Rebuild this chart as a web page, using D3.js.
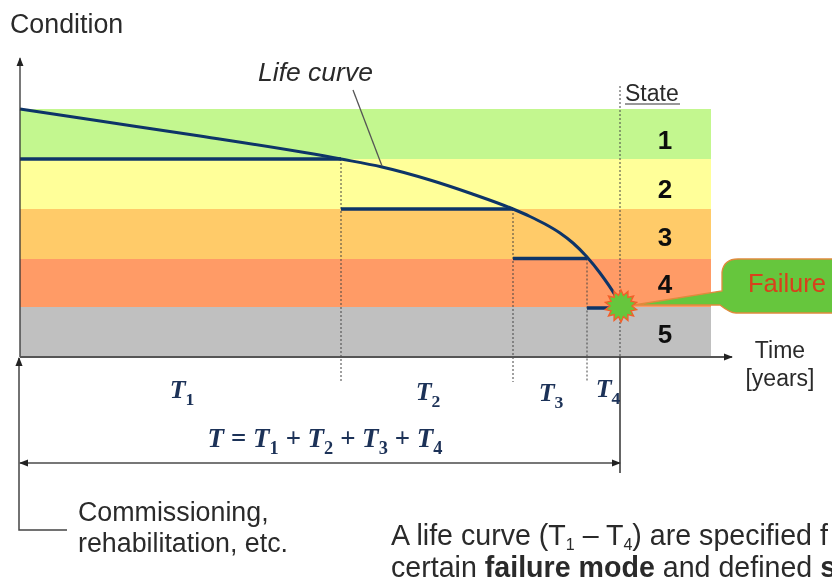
<!DOCTYPE html>
<html>
<head>
<meta charset="utf-8">
<script src="https://cdn.jsdelivr.net/npm/d3@7"></script>
<style>
  html, body { margin: 0; padding: 0; background: #fff; overflow: hidden; }
  text { font-family: "Liberation Sans", Arial, sans-serif; fill: #2a2a2a; }
  .serif { font-family: "Liberation Serif", serif; font-style: italic; font-weight: bold; fill: #1f3358; }
</style>
</head>
<body>
<div id="chart"></div>
<script>
// Values (time in years, condition in %)
const states = ["1", "2", "3", "4", "5"];
const stateTop = [99.2, 79.2, 59.2, 39.2, 20];
const stateBottom = [79.2, 59.2, 39.2, 20, 0];
const stateLabelLevel = [83.2, 63.6, 44.4, 25.6, 5.6];
const stateColors = ["#c3f78f", "#ffff99", "#ffcb69", "#ff9b66", "#c0c0c0"];

const periodNames = ["1", "2", "3", "4"];
const periodStart = [0, 32.1, 49.3, 56.7];
const periodEnd = [32.1, 49.3, 56.7, 60];
const periodLevel = [79.2, 59.2, 39.4, 19.6];

const curveTime = [0, 8, 18, 32.1, 36.2, 41, 45.1, 49.3, 51, 52.5, 54, 55.3, 56.7, 58, 59.5, 60];
const curveCondition = [99.2, 94.4, 88.4, 79.2, 76, 70.8, 65.4, 59.2, 56.2, 53.2, 49.6, 45.6, 40, 33.6, 24.8, 21.2];

const width = 832, height = 580;
const x = d3.scaleLinear().domain([0, 71.2]).range([20, 732]);
const y = d3.scaleLinear().domain([0, 100]).range([357, 107]);

const bandRight = 69.1;   // coloured bands stop before the arrow head
const axisTop = 119.5;

const svg = d3.select("#chart").append("svg")
    .attr("width", width)
    .attr("height", height);

const defs = svg.append("defs");
defs.append("filter").attr("id", "soft")
    .attr("filterUnits", "userSpaceOnUse")
    .attr("x", 0).attr("y", 0)
    .attr("width", width).attr("height", height)
    .append("feGaussianBlur").attr("stdDeviation", 0.55);
defs.append("marker").attr("id", "head")
    .attr("viewBox", "0 0 10 10").attr("refX", 9).attr("refY", 5)
    .attr("markerWidth", 9).attr("markerHeight", 9)
    .attr("markerUnits", "userSpaceOnUse")
    .attr("orient", "auto-start-reverse")
    .append("path").attr("d", "M0,1L10,5L0,9Z").attr("fill", "#222");

const g = svg.append("g").attr("filter", "url(#soft)");

// state bands
g.selectAll("rect.band")
    .data(states)
    .join("rect")
    .attr("class", "band")
    .attr("x", x(0))
    .attr("width", x(bandRight) - x(0))
    .attr("y", (d, i) => y(stateTop[i]))
    .attr("height", (d, i) => y(stateBottom[i]) - y(stateTop[i]))
    .attr("fill", (d, i) => stateColors[i]);

// dashed drop lines at each period end
g.selectAll("line.drop")
    .data(periodEnd.slice(0, 3))
    .join("line")
    .attr("class", "drop")
    .attr("x1", d => x(d)).attr("x2", d => x(d))
    .attr("y1", (d, i) => y(periodLevel[i]))
    .attr("y2", y(-10))
    .attr("stroke", "#444")
    .attr("stroke-dasharray", "2,2");

g.append("line")
    .attr("x1", x(60)).attr("x2", x(60))
    .attr("y1", 86).attr("y2", y(0))
    .attr("stroke", "#444")
    .attr("stroke-dasharray", "2,2");

// period bars
g.selectAll("line.period")
    .data(periodNames)
    .join("line")
    .attr("class", "period")
    .attr("x1", (d, i) => x(periodStart[i]))
    .attr("x2", (d, i) => x(periodEnd[i]))
    .attr("y1", (d, i) => y(periodLevel[i]))
    .attr("y2", (d, i) => y(periodLevel[i]))
    .attr("stroke", "#0f3468")
    .attr("stroke-width", 3.5);

// life curve
const line = d3.line()
    .x(d => x(d[0]))
    .y(d => y(d[1]))
    .curve(d3.curveMonotoneX);

g.append("path")
    .datum(curveTime.map((t, i) => [t, curveCondition[i]]))
    .attr("d", line)
    .attr("fill", "none")
    .attr("stroke", "#0f3468")
    .attr("stroke-width", 3);

// leader of the curve label
g.append("line")
    .attr("x1", 353).attr("y1", 90)
    .attr("x2", 382).attr("y2", 166)
    .attr("stroke", "#555").attr("stroke-width", 1.3);

// axes
g.append("line")
    .attr("x1", x(0)).attr("x2", x(0))
    .attr("y1", y(0)).attr("y2", y(axisTop))
    .attr("stroke", "#333").attr("stroke-width", 1.3)
    .attr("marker-end", "url(#head)");
g.append("line")
    .attr("x1", x(0)).attr("x2", x(71.2))
    .attr("y1", y(0)).attr("y2", y(0))
    .attr("stroke", "#555").attr("stroke-width", 2)
    .attr("marker-end", "url(#head)");

// commissioning arrow
g.append("path")
    .attr("d", `M67,530H${x(-0.1)}V${y(0) + 1}`)
    .attr("fill", "none")
    .attr("stroke", "#444").attr("stroke-width", 1.5)
    .attr("marker-end", "url(#head)");

// total T arrow and right bound
g.append("line")
    .attr("x1", x(60)).attr("x2", x(0))
    .attr("y1", 463).attr("y2", 463)
    .attr("stroke", "#777").attr("stroke-width", 2)
    .attr("marker-start", "url(#head)")
    .attr("marker-end", "url(#head)");
g.append("line")
    .attr("x1", x(60)).attr("x2", x(60))
    .attr("y1", y(0)).attr("y2", 473)
    .attr("stroke", "#333").attr("stroke-width", 1.5);

// failure callout
g.append("path")
    .attr("d", "M722,272Q724,259 738,259H834V313H736Q730,313 720,305L634,305L722,291Z")
    .attr("fill", "#66c63c")
    .attr("stroke", "#e08a3c")
    .attr("stroke-width", 1.3);

// failure star
const starRadius = d3.range(28).map(i => i % 2 ? 11 : 16);
const star = d3.lineRadial()
    .angle((d, i) => i / starRadius.length * 2 * Math.PI)
    .radius(d => d)
    .curve(d3.curveLinearClosed);
g.append("path")
    .attr("transform", `translate(${x(60) + 1},${y(20) - 1})`)
    .attr("d", star(starRadius))
    .attr("fill", "#66c63c")
    .attr("stroke", "#f2602a")
    .attr("stroke-width", 1.4);

// labels
function label(tx, ty, str, size, opts = {}) {
    return g.append("text")
        .attr("x", tx).attr("y", ty)
        .attr("text-anchor", opts.anchor || "start")
        .attr("font-size", size)
        .attr("font-style", opts.italic ? "italic" : null)
        .attr("font-weight", opts.bold ? "bold" : null)
        .style("fill", opts.fill || null)
        .text(str);
}

label(10, 33, "Condition", 26.8);
label(258, 81, "Life curve", 26.5, {italic: true});
label(625, 101, "State", 23);
g.append("line")
    .attr("x1", 625).attr("x2", 680).attr("y1", 104).attr("y2", 104)
    .attr("stroke", "#333").attr("stroke-width", 1);

g.selectAll("text.state")
    .data(states)
    .join("text")
    .attr("class", "state")
    .attr("x", 665)
    .attr("y", (d, i) => y(stateLabelLevel[i]))
    .attr("text-anchor", "middle")
    .attr("font-size", 26)
    .attr("font-weight", "bold")
    .style("fill", "#111")
    .text(d => d);

label(748, 292, "Failure", 25.5, {fill: "#d8401c"});
label(780, 358, "Time", 23, {anchor: "middle"});
label(780, 386, "[years]", 23, {anchor: "middle"});

// T labels with subscripts
const periodLabelX = [182, 428, 551, 608];
const periodLabelY = [398, 400, 401, 397];

function mathLabel(tx, ty, parts, size, anchor) {
    const t = g.append("text")
        .attr("class", "serif")
        .attr("x", tx).attr("y", ty)
        .attr("text-anchor", anchor)
        .attr("font-size", size);
    parts.forEach(p => {
        const s = t.append("tspan").text(p[0]);
        if (p[1]) {
            s.attr("font-size", size * 0.68).attr("dy", size * 0.25).attr("font-style", "normal");
        } else if (p[2]) {
            s.attr("dy", -size * 0.25);
        }
    });
}

periodNames.forEach((n, i) => {
    mathLabel(periodLabelX[i], periodLabelY[i], [["T"], [n, true]], 26, "middle");
});

mathLabel(325, 447, [["T = T"], ["1", true], [" + T", false, true], ["2", true], [" + T", false, true], ["3", true], [" + T", false, true], ["4", true]], 27, "middle");

label(78, 521, "Commissioning,", 26.8);
label(78, 552, "rehabilitation, etc.", 26.8);

// bottom note, the window edge cuts it off as in the picture
const note = label(391, 545, "", 28.6);
note.append("tspan").text("A life curve (T");
note.append("tspan").attr("font-size", 16).attr("dy", 5).text("1");
note.append("tspan").attr("dy", -5).text(" – T");
note.append("tspan").attr("font-size", 16).attr("dy", 5).text("4");
note.append("tspan").attr("dy", -5).text(") are specified f");

const note2 = label(391, 577, "certain ", 28.6);
note2.append("tspan").attr("font-weight", "bold").text("failure mode");
note2.append("tspan").text(" and defined ");
note2.append("tspan").attr("font-weight", "bold").text("s");
</script>
</body>
</html>
